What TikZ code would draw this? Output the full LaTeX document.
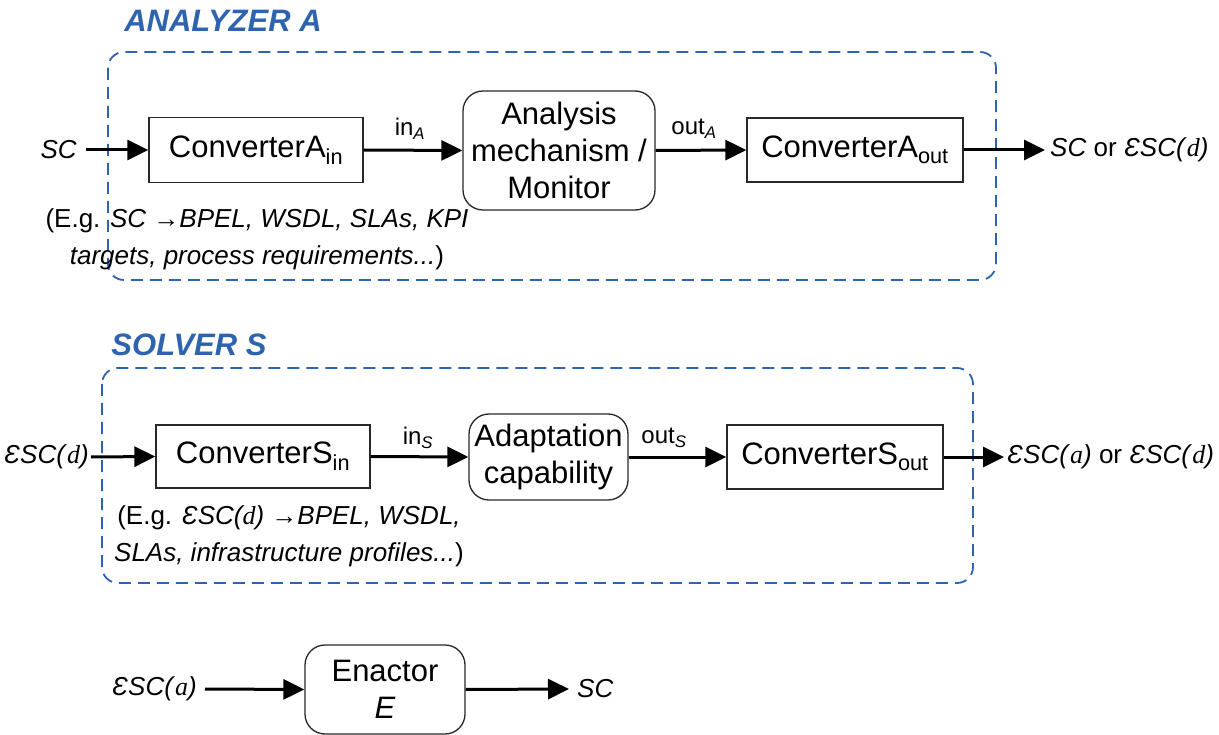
\documentclass[tikz,border=0pt]{standalone}
\usepackage{fontspec}
\setmainfont{Liberation Sans}
\newfontfamily\tmsfont{Liberation Serif}
\usetikzlibrary{arrows.meta}
\definecolor{grpblue}{RGB}{46,100,175}
\definecolor{edgegray}{RGB}{40,40,40}
% script-E service composition with a serif-italic argument
\newcommand{\esc}[1]{\textit{ƐSC(}{\tmsfont\itshape #1}\textit{)}}
\begin{document}
\begin{tikzpicture}[x=1pt,y=-1pt,
  boxtext/.style={font=\fontsize{31}{37}\selectfont},
  sidetext/.style={font=\fontsize{26}{31}\selectfont, inner sep=0pt},
  labtext/.style={font=\fontsize{24}{28}\selectfont, inner sep=0pt},
  notetext/.style={font=\fontsize{26}{37}\selectfont\itshape, align=center, inner sep=0pt},
  titletext/.style={font=\fontsize{31}{36}\selectfont\bfseries\itshape, text=grpblue, inner sep=0pt},
  convbox/.style={boxtext, draw=edgegray, line width=1.3pt, inner sep=0pt, align=center},
  procbox/.style={convbox, rounded corners=20pt},
  group/.style={draw=grpblue, line width=1.8pt, dash pattern=on 12pt off 7pt, rounded corners=16pt},
  flow/.style={line width=3pt, -{Triangle[length=21pt,width=20pt]}}]

\useasboundingbox (0,0) rectangle (1219,735);

% ---------------- Analyzer A ----------------
\node[titletext] (tA) at (223,21) {ANALYZER A};
\draw[group] (108,52) rectangle (996,280);

\node[convbox, minimum width=214pt, minimum height=65pt] (cain) at (256,150) {ConverterA\textsubscript{in}};
\node[procbox, minimum width=192pt, minimum height=119pt] (amon) at (559,150.5) {Analysis\\mechanism /\\Monitor};
\node[convbox, minimum width=216pt, minimum height=64pt] (caout) at (855,150) {ConverterA\textsubscript{out}};

\node[sidetext, anchor=east] (scA) at (77,150) {\textit{SC}};
\node[sidetext, anchor=west] (outA) at (1050,150) {\textit{SC} or \esc{d}};
\coordinate (scAend) at (86,150);
\coordinate (outAend) at (1045,150);

\draw[flow] (scAend) -- (cain.west);
\draw[flow] (cain.east) -- (amon.west);
\draw[flow] (amon.east) -- (caout.west);
\draw[flow] (caout.east) -- (outAend);

\node[labtext] (inA) at (410,129) {in\textsubscript{\textit{A}}};
\node[labtext] (oA) at (694,129) {out\textsubscript{\textit{A}}};

\node[notetext] (noteA) at (257,239) {\upshape(E.g. \itshape SC →BPEL, WSDL, SLAs, KPI\\targets, process requirements...\upshape)};

% ---------------- Solver S ----------------
\node[titletext] (tS) at (189,345) {SOLVER S};
\draw[group] (102,368) rectangle (973,583);

\node[convbox, minimum width=214pt, minimum height=63pt] (csin) at (263,456.5) {ConverterS\textsubscript{in}};
\node[procbox, minimum width=159pt, minimum height=86pt] (adap) at (548.5,457) {Adaptation\\capability};
\node[convbox, minimum width=216pt, minimum height=64pt] (csout) at (835,457) {ConverterS\textsubscript{out}};

\node[sidetext, anchor=east] (inS0) at (89,457) {\esc{d}};
\node[sidetext, anchor=west] (outS) at (1007,457) {\esc{a} or \esc{d}};
\coordinate (inSend) at (91,457);
\coordinate (outSend) at (1004,457);

\draw[flow] (inSend) -- (csin.west);
\draw[flow] (csin.east) -- (adap.west);
\draw[flow] (adap.east) -- (csout.west);
\draw[flow] (csout.east) -- (outSend);

\node[labtext] (inS) at (418,438) {in\textsubscript{\textit{S}}};
\node[labtext] (oS) at (664,438) {out\textsubscript{\textit{S}}};

\node[notetext] (noteS) at (289,536) {\upshape(E.g. \itshape\esc{d} →BPEL, WSDL,\\SLAs, infrastructure profiles...\upshape)};

% ---------------- Enactor E ----------------
\node[procbox, minimum width=160pt, minimum height=89pt] (enact) at (385,689.5) {Enactor\\\textit{E}};
\node[sidetext, anchor=east] (inE) at (197,689) {\esc{a}};
\node[sidetext, anchor=west] (outE) at (577,689) {\textit{SC}};
\coordinate (inEend) at (205,689);
\coordinate (outEend) at (569,689);

\draw[flow] (inEend) -- (enact.west);
\draw[flow] (enact.east) -- (outEend);

\end{tikzpicture}
\end{document}
